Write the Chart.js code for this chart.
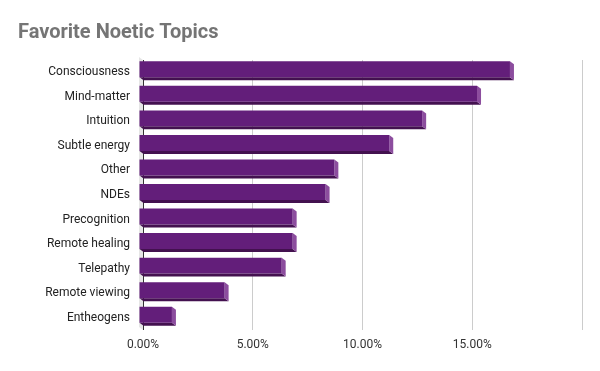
<!DOCTYPE html>
<html>
<head>
<meta charset="utf-8">
<script src="https://cdn.jsdelivr.net/npm/chart.js@4"></script>
<style>
  html, body { margin: 0; padding: 0; background: #fff; }
  #wrap { width: 600px; height: 371px; }
</style>
</head>
<body>
<div id="wrap"><canvas id="chart" width="600" height="371"></canvas></div>
<script>
/* Favorite Noetic Topics — horizontal 3D-look bars */

const topics = ['Consciousness', 'Mind-matter', 'Intuition', 'Subtle energy', 'Other', 'NDEs',
  'Precognition', 'Remote healing', 'Telepathy', 'Remote viewing', 'Entheogens'];
const shares = [16.9, 15.4, 12.9, 11.4, 8.9, 8.5, 7.0, 7.0, 6.5, 3.9, 1.5];
const xTicks = [0, 5, 10, 15];

const DEPTH_X = 4;
const DEPTH_Y = 3;
const COLORS = {
  front: '#631e7a',
  bottom: '#43114f',
  side: '#8c4d9e',
  wall: '#e6e6e6',
  grid: '#cccccc',
  axis: '#333333',
};

// draws the depth faces behind the bars, then shifts the bar fronts up-left
const depthPlugin = {
  id: 'depth',
  beforeDatasetsDraw(chart) {
    const { ctx, chartArea: a } = chart;
    const x0 = chart.scales.x.getPixelForValue(0);
    ctx.save();
    ctx.fillStyle = COLORS.wall;
    ctx.beginPath();
    ctx.moveTo(x0, a.top);
    ctx.lineTo(x0 - DEPTH_X, a.top - DEPTH_Y);
    ctx.lineTo(x0 - DEPTH_X, a.bottom - DEPTH_Y);
    ctx.lineTo(x0, a.bottom);
    ctx.closePath();
    ctx.fill();
    // axis line on top of the wall
    ctx.strokeStyle = COLORS.axis;
    ctx.lineWidth = 1;
    ctx.beginPath();
    ctx.moveTo(Math.round(x0) + 0.5, a.top);
    ctx.lineTo(Math.round(x0) + 0.5, a.bottom);
    ctx.stroke();

    chart.getDatasetMeta(0).data.forEach(el => {
      const { x, y, base, height } = el.getProps(['x', 'y', 'base', 'height'], true);
      const top = y - height / 2;
      const bot = y + height / 2;
      ctx.fillStyle = COLORS.bottom;
      ctx.beginPath();
      ctx.moveTo(base - DEPTH_X, bot - DEPTH_Y);
      ctx.lineTo(x - DEPTH_X, bot - DEPTH_Y);
      ctx.lineTo(x, bot);
      ctx.lineTo(base, bot);
      ctx.closePath();
      ctx.fill();
      ctx.fillStyle = COLORS.side;
      ctx.beginPath();
      ctx.moveTo(x - DEPTH_X, top - DEPTH_Y);
      ctx.lineTo(x, top);
      ctx.lineTo(x, bot);
      ctx.lineTo(x - DEPTH_X, bot - DEPTH_Y);
      ctx.closePath();
      ctx.fill();
    });
    ctx.restore();
    ctx.save();
    ctx.translate(-DEPTH_X, -DEPTH_Y);
  },
  afterDatasetsDraw(chart) {
    chart.ctx.restore();
  },
};

new Chart(document.getElementById('chart').getContext('2d'), {
  type: 'bar',
  data: {
    labels: topics,
    datasets: [{
      data: shares,
      backgroundColor: COLORS.front,
      borderWidth: 0,
      barPercentage: 0.65,
      categoryPercentage: 1,
      clip: false,
    }],
  },
  options: {
    indexAxis: 'y',
    responsive: false,
    animation: false,
    layout: { padding: { left: 18, right: 18, top: 0, bottom: 0 } },
    plugins: {
      legend: { display: false },
      tooltip: { enabled: false },
      title: {
        display: true,
        text: 'Favorite Noetic Topics',
        align: 'start',
        color: '#757575',
        font: { family: 'Roboto', size: 20, weight: 'bold' },
        padding: { top: 21, bottom: 15 },
      },
    },
    scales: {
      x: {
        min: 0,
        max: 20,
        afterBuildTicks: s => { s.ticks = xTicks.concat([20]).map(v => ({ value: v })); },
        afterFit: s => { s.height = 41; },
        grid: {
          color: ctx => (ctx.tick && ctx.tick.value === 0 ? 'rgba(0,0,0,0)' : COLORS.grid),
          drawTicks: false,
        },
        border: { display: false },
        ticks: {
          padding: 8,
          color: '#333',
          font: { family: 'Roboto', size: 12 },
          callback: v => (xTicks.includes(v) ? v.toFixed(2) + '%' : ''),
        },
      },
      y: {
        afterFit: s => { s.width = 125; },
        grid: { display: false, drawTicks: false },
        border: { display: false },
        ticks: {
          padding: 13,
          color: '#222',
          font: { family: 'Roboto', size: 12 },
        },
      },
    },
  },
  plugins: [depthPlugin],
});
</script>
</body>
</html>
